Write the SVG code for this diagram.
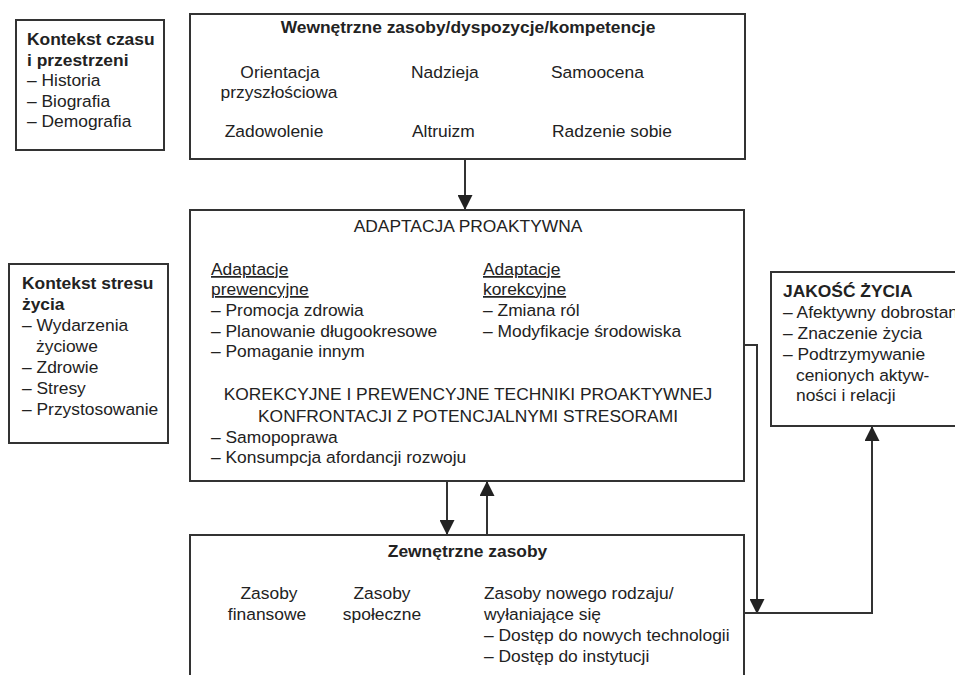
<svg xmlns="http://www.w3.org/2000/svg" width="955" height="675" viewBox="0 0 955 675">
<defs>
<style>
.box{fill:#fff;stroke:#333;stroke-width:2}
.t{font-family:"Liberation Sans",Arial,sans-serif;font-size:17.4px;fill:#222}
.b{font-weight:bold}
.c{text-anchor:middle}
.u{text-decoration:underline}
.ln{fill:none;stroke:#333;stroke-width:2}
</style>
<marker id="ah" viewBox="0 0 15 15" refX="15" refY="7.5" markerWidth="15" markerHeight="15" markerUnits="userSpaceOnUse" orient="auto">
<path d="M0,0 L15,7.5 L0,15 z" fill="#222"/>
</marker>
</defs>
<rect width="955" height="675" fill="#fff"/>

<g id="connectors">
<path class="ln" d="M465,159 V210" marker-end="url(#ah)"/>
<path class="ln" d="M447,481 V535" marker-end="url(#ah)"/>
<path class="ln" d="M487,535 V481" marker-end="url(#ah)"/>
<path class="ln" d="M744,345 H757 V614" marker-end="url(#ah)"/>
<path class="ln" d="M744,613 H872 V426" marker-end="url(#ah)"/>
</g>

<g id="kontekst-czasu">
<rect class="box" x="16" y="20" width="148" height="130"/>
<text class="t b" x="27" y="45">Kontekst czasu</text>
<text class="t b" x="27" y="65.5">i przestrzeni</text>
<text class="t" x="27" y="86">– Historia</text>
<text class="t" x="27" y="106.5">– Biografia</text>
<text class="t" x="27" y="127">– Demografia</text>
</g>

<g id="wewnetrzne-zasoby">
<rect class="box" x="190" y="14" width="555" height="145"/>
<text class="t b c" x="468" y="33">Wewnętrzne zasoby/dyspozycje/kompetencje</text>
<text class="t c" x="280" y="78">Orientacja</text>
<text class="t c" x="279" y="98">przyszłościowa</text>
<text class="t" x="411" y="78">Nadzieja</text>
<text class="t" x="551" y="78">Samoocena</text>
<text class="t c" x="274" y="137">Zadowolenie</text>
<text class="t" x="412" y="137">Altruizm</text>
<text class="t" x="552" y="137">Radzenie sobie</text>
</g>

<g id="adaptacja-proaktywna">
<rect class="box" x="190" y="210" width="554" height="271"/>
<text class="t c" x="468" y="232">ADAPTACJA PROAKTYWNA</text>
<text class="t u" x="211" y="275">Adaptacje</text>
<text class="t u" x="211" y="295">prewencyjne</text>
<text class="t" x="211" y="316">– Promocja zdrowia</text>
<text class="t" x="211" y="336.5">– Planowanie długookresowe</text>
<text class="t" x="211" y="357">– Pomaganie innym</text>
<text class="t u" x="483" y="275">Adaptacje</text>
<text class="t u" x="483" y="295">korekcyjne</text>
<text class="t" x="483" y="316">– Zmiana ról</text>
<text class="t" x="483" y="336.5">– Modyfikacje środowiska</text>
<text class="t c" x="468" y="400">KOREKCYJNE I PREWENCYJNE TECHNIKI PROAKTYWNEJ</text>
<text class="t c" x="468" y="421.5">KONFRONTACJI Z POTENCJALNYMI STRESORAMI</text>
<text class="t" x="211" y="442.5">– Samopoprawa</text>
<text class="t" x="211" y="463">– Konsumpcja afordancji rozwoju</text>
</g>

<g id="kontekst-stresu">
<rect class="box" x="9" y="264" width="159" height="179"/>
<text class="t b" x="22" y="289">Kontekst stresu</text>
<text class="t b" x="22" y="310">życia</text>
<text class="t" x="22" y="331">– Wydarzenia</text>
<text class="t" x="36" y="352">życiowe</text>
<text class="t" x="22" y="373">– Zdrowie</text>
<text class="t" x="22" y="394">– Stresy</text>
<text class="t" x="22" y="415">– Przystosowanie</text>
</g>

<g id="jakosc-zycia">
<rect class="box" x="771" y="272" width="200" height="154"/>
<text class="t b" x="783" y="297">JAKOŚĆ ŻYCIA</text>
<text class="t" x="783" y="318">– Afektywny dobrostan</text>
<text class="t" x="783" y="339">– Znaczenie życia</text>
<text class="t" x="783" y="360">– Podtrzymywanie</text>
<text class="t" x="796" y="380.5">cenionych aktyw-</text>
<text class="t" x="796" y="400.5">ności i relacji</text>
</g>

<g id="zewnetrzne-zasoby">
<rect class="box" x="190" y="535" width="554" height="160"/>
<text class="t b c" x="467.5" y="557">Zewnętrzne zasoby</text>
<text class="t c" x="269" y="599">Zasoby</text>
<text class="t c" x="267" y="620">finansowe</text>
<text class="t c" x="382" y="599">Zasoby</text>
<text class="t c" x="382" y="620">społeczne</text>
<text class="t" x="484" y="599">Zasoby nowego rodzaju/</text>
<text class="t" x="484" y="620">wyłaniające się</text>
<text class="t" x="484" y="641">– Dostęp do nowych technologii</text>
<text class="t" x="484" y="662">– Dostęp do instytucji</text>
</g>
</svg>
